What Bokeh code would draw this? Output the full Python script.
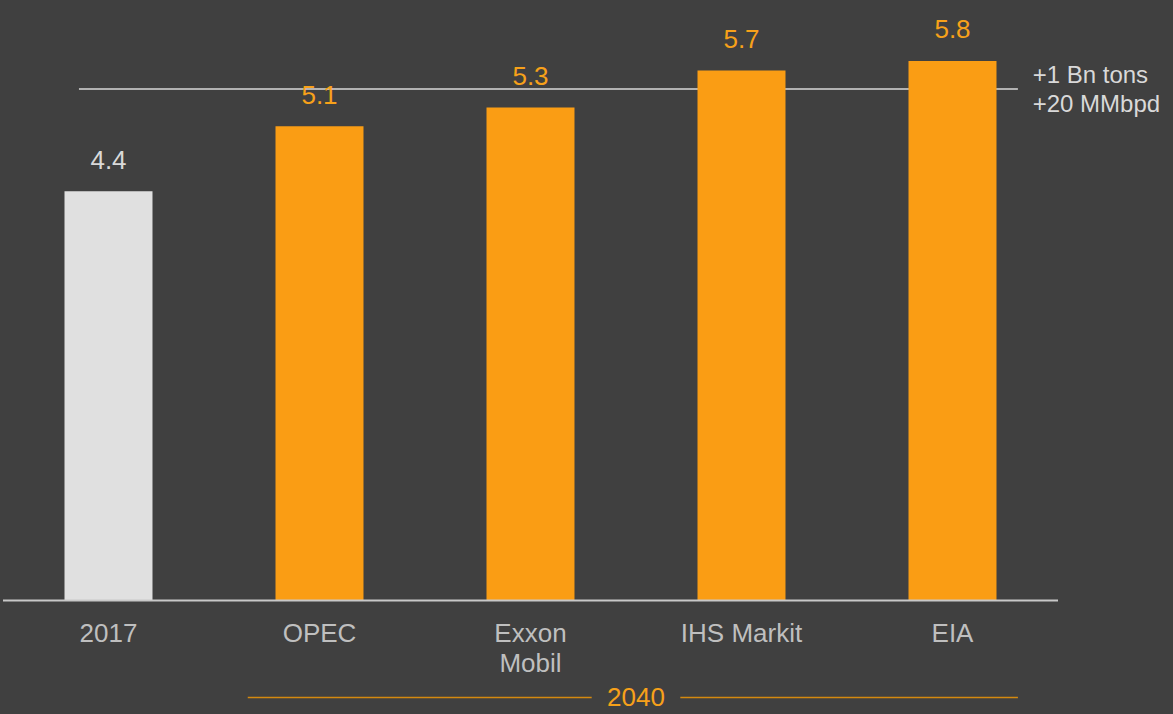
from bokeh.plotting import figure
from bokeh.models import Range1d, ColumnDataSource, GlobalInlineStyleSheet
from bokeh.embed import file_html
from bokeh.resources import INLINE
from bokeh.core.properties import value

# ---- data ----
categories = ["2017", "OPEC", "Exxon\nMobil", "IHS Markit", "EIA"]
values = [4.4, 5.1, 5.3, 5.7, 5.8]
value_labels = ["4.4", "5.1", "5.3", "5.7", "5.8"]
ref_level = 5.5
ref_text = "+1 Bn tons\n+20 MMbpd"
group_label = "2040"
group_first, group_last = 1, 4

# ---- styles ----
BG = "#404040"
ORANGE = "#fa9d14"
LIGHT = "#e0e0e0"
bar_colors = [LIGHT] + [ORANGE] * 4
text_colors = ["#d9d9d9"] + ["#f7a11a"] * 4
CAT_COLOR = "#bfbfbf"
FONT = value("Liberation Sans")

W, H = 1173, 714
PX_X, PX_Y = 211.0, 93.0
x0 = -108 / PX_X
y_base_px = 600

p = figure(width=W, height=H, output_backend="svg", toolbar_location=None,
           x_range=Range1d(x0, x0 + W / PX_X),
           y_range=Range1d(-(H - y_base_px) / PX_Y, y_base_px / PX_Y),
           min_border=0, background_fill_color=BG, border_fill_color=BG,
           outline_line_color=None)
p.axis.visible = False
p.grid.visible = False
p.stylesheets = [GlobalInlineStyleSheet(css="html, body { background-color: #404040; }")]

idx = list(range(len(categories)))
src = ColumnDataSource(dict(x=idx, top=values, lab=value_labels,
                            color=bar_colors, tcolor=text_colors,
                            ly=[v + 0.34 for v in values]))

# reference line (+1 Bn tons)
p.segment(x0=[idx[0] - 0.14], x1=[idx[-1] + 0.31], y0=[ref_level], y1=[ref_level],
          line_color="#d8d8d8", line_width=1.5)

p.vbar(x="x", top="top", bottom=0, width=0.417, fill_color="color", line_color=None, source=src)

# baseline
p.segment(x0=[idx[0] - 0.5], x1=[idx[-1] + 0.5], y0=[0], y1=[0],
          line_color="#c8c8c8", line_width=2)

# value labels
p.text(x="x", y="ly", text="lab", text_color="tcolor", text_font=FONT,
       text_font_size="26px", text_align="center", text_baseline="alphabetic", source=src)

# category labels (line by line, baselines 30px apart)
cat_lines = [c.split("\n") for c in categories]
line_step = 30 / PX_Y
for k in range(max(len(l) for l in cat_lines)):
    xs = [i for i, l in zip(idx, cat_lines) if len(l) > k]
    ts = [l[k] for l in cat_lines if len(l) > k]
    p.text(x=xs, y=[-0.345 - k * line_step] * len(xs), text=ts, text_color=CAT_COLOR,
           text_font=FONT, text_font_size="26px", text_align="center",
           text_baseline="alphabetic")

# reference text
p.text(x=[idx[-1] + 0.38], y=[ref_level], text=[ref_text], text_color="#d9d9d9",
       text_font=FONT, text_font_size="24px", text_align="left", text_baseline="middle",
       text_line_height=1.1)

# 2040 group bracket
gy = -1.043
gc = (group_first + group_last) / 2
p.segment(x0=[group_first - 0.34, gc + 0.21], x1=[gc - 0.21, group_last + 0.31],
          y0=[gy, gy], y1=[gy, gy], line_color="#d4890f", line_width=1.5)
p.text(x=[gc], y=[gy], text=[group_label], text_color="#f7a11a", text_font=FONT,
       text_font_size="26px", text_align="center", text_baseline="middle")

open("out.html", "w").write(file_html(p, INLINE))
